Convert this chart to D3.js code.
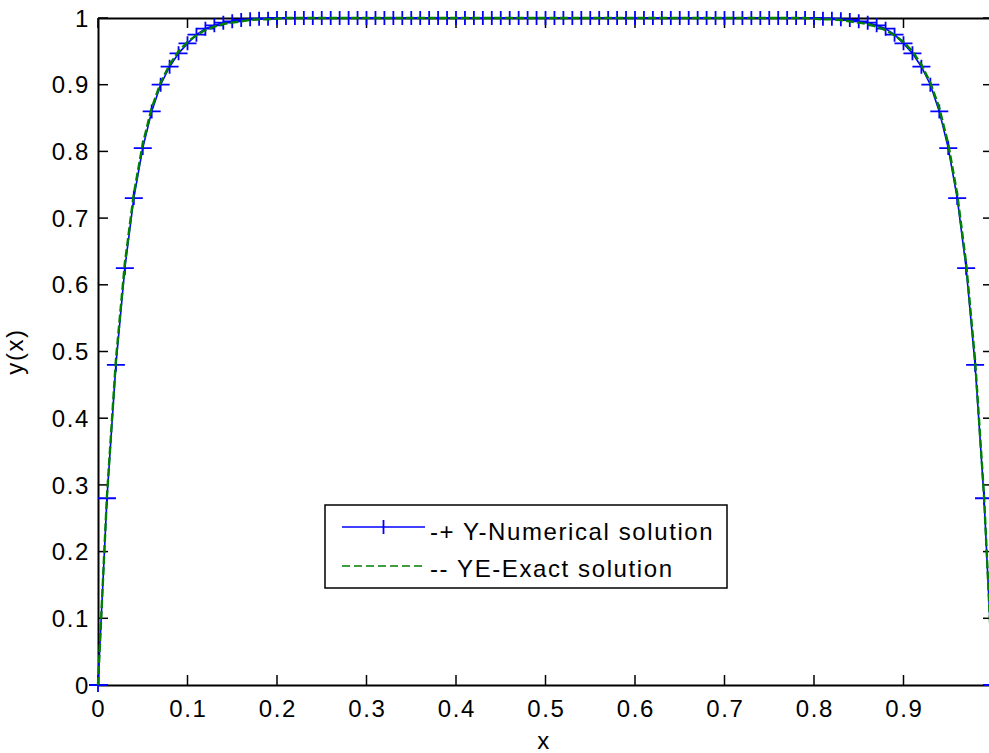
<!DOCTYPE html>
<html>
<head>
<meta charset="utf-8">
<script src="https://cdn.jsdelivr.net/npm/d3@7"></script>
<style>
  html, body { margin: 0; padding: 0; background: #fff; }
  svg { display: block; }
  text { font-family: "Liberation Sans", Arial, sans-serif; font-size: 24px; letter-spacing: 1.6px; fill: #000; }
</style>
</head>
<body>
<svg id="chart_svg"></svg>
<script>
// grid points
const xs = [
  0.00, 0.01, 0.02, 0.03, 0.04, 0.05, 0.06, 0.07, 0.08, 0.09,
  0.10, 0.11, 0.12, 0.13, 0.14, 0.15, 0.16, 0.17, 0.18, 0.19,
  0.20, 0.21, 0.22, 0.23, 0.24, 0.25, 0.26, 0.27, 0.28, 0.29,
  0.30, 0.31, 0.32, 0.33, 0.34, 0.35, 0.36, 0.37, 0.38, 0.39,
  0.40, 0.41, 0.42, 0.43, 0.44, 0.45, 0.46, 0.47, 0.48, 0.49,
  0.50, 0.51, 0.52, 0.53, 0.54, 0.55, 0.56, 0.57, 0.58, 0.59,
  0.60, 0.61, 0.62, 0.63, 0.64, 0.65, 0.66, 0.67, 0.68, 0.69,
  0.70, 0.71, 0.72, 0.73, 0.74, 0.75, 0.76, 0.77, 0.78, 0.79,
  0.80, 0.81, 0.82, 0.83, 0.84, 0.85, 0.86, 0.87, 0.88, 0.89,
  0.90, 0.91, 0.92, 0.93, 0.94, 0.95, 0.96, 0.97, 0.98, 0.99,
  1.00
];

// numerical solution
const yNumerical = [
  0, 0.28, 0.48, 0.625, 0.73, 0.805, 0.86, 0.9, 0.927, 0.947,
  0.962, 0.975, 0.984, 0.989, 0.993, 0.995, 0.997, 0.998, 0.999, 0.999,
  1, 1, 1, 1, 1, 1, 1, 1, 1, 1,
  1, 1, 1, 1, 1, 1, 1, 1, 1, 1,
  1, 1, 1, 1, 1, 1, 1, 1, 1, 1,
  1, 1, 1, 1, 1, 1, 1, 1, 1, 1,
  1, 1, 1, 1, 1, 1, 1, 1, 1, 1,
  1, 1, 1, 1, 1, 1, 1, 1, 1, 1,
  1, 0.999, 0.999, 0.998, 0.997, 0.995, 0.993, 0.989, 0.984, 0.975,
  0.962, 0.947, 0.927, 0.9, 0.86, 0.805, 0.73, 0.625, 0.48, 0.28,
  0
];

// exact solution
const yExact = [
  0, 0.283, 0.487, 0.632, 0.736, 0.811, 0.865, 0.903, 0.93, 0.95,
  0.964, 0.974, 0.982, 0.987, 0.991, 0.993, 0.995, 0.997, 0.998, 0.998,
  0.999, 1, 1, 1, 1, 1, 1, 1, 1, 1,
  1, 1, 1, 1, 1, 1, 1, 1, 1, 1,
  1, 1, 1, 1, 1, 1, 1, 1, 1, 1,
  1, 1, 1, 1, 1, 1, 1, 1, 1, 1,
  1, 1, 1, 1, 1, 1, 1, 1, 1, 1,
  1, 1, 1, 1, 1, 1, 1, 1, 1, 1,
  0.999, 0.998, 0.998, 0.997, 0.995, 0.993, 0.991, 0.987, 0.982, 0.974,
  0.964, 0.95, 0.93, 0.903, 0.865, 0.811, 0.736, 0.632, 0.487, 0.283,
  0
];

const xTicks = [0, 0.1, 0.2, 0.3, 0.4, 0.5, 0.6, 0.7, 0.8, 0.9];
const xTickLabels = ["0", "0.1", "0.2", "0.3", "0.4", "0.5", "0.6", "0.7", "0.8", "0.9"];
const yTicks = [0, 0.1, 0.2, 0.3, 0.4, 0.5, 0.6, 0.7, 0.8, 0.9, 1];
const yTickLabels = ["0", "0.1", "0.2", "0.3", "0.4", "0.5", "0.6", "0.7", "0.8", "0.9", "1"];
const seriesNames = ["-+ Y-Numerical solution", "-- YE-Exact solution"];

const width = 989, height = 753;
const plotLeft = 98, plotRight = 993, plotTop = 18, plotBottom = 685;
const tickLen = 10;

const svg = d3.select("#chart_svg")
  .attr("width", width)
  .attr("height", height);

const x = d3.scaleLinear().domain([0, 1]).range([plotLeft, plotRight]);
const y = d3.scaleLinear().domain([0, 1]).range([plotBottom, plotTop]);

// axes box (drawn first, data on top like MATLAB default)
const axesG = svg.append("g");

axesG.append("g")
  .attr("transform", `translate(0,${plotBottom})`)
  .call(d3.axisBottom(x).tickValues(xTicks).tickSize(0).tickFormat(""))
  .call(g => g.select(".domain").attr("stroke", "#000").attr("stroke-width", 2));
axesG.append("g")
  .attr("transform", `translate(0,${plotTop})`)
  .call(d3.axisTop(x).tickValues(xTicks).tickSize(0).tickFormat(""))
  .call(g => g.select(".domain").attr("stroke", "#000").attr("stroke-width", 2));
axesG.append("g")
  .attr("transform", `translate(${plotLeft},0)`)
  .call(d3.axisLeft(y).tickValues(yTicks).tickSize(0).tickFormat(""))
  .call(g => g.select(".domain").attr("stroke", "#000").attr("stroke-width", 2));
axesG.append("g")
  .attr("transform", `translate(${plotRight},0)`)
  .call(d3.axisRight(y).tickValues(yTicks).tickSize(0).tickFormat(""))
  .call(g => g.select(".domain").attr("stroke", "#000").attr("stroke-width", 2));

// inward ticks on all four sides
const tickG = axesG.append("g").attr("stroke", "#000").attr("stroke-width", 1.5);
xTicks.forEach(v => {
  tickG.append("line").attr("x1", x(v)).attr("x2", x(v)).attr("y1", plotBottom).attr("y2", plotBottom - tickLen);
  tickG.append("line").attr("x1", x(v)).attr("x2", x(v)).attr("y1", plotTop).attr("y2", plotTop + tickLen);
});
yTicks.forEach(v => {
  tickG.append("line").attr("x1", plotLeft).attr("x2", plotLeft + tickLen).attr("y1", y(v)).attr("y2", y(v));
  tickG.append("line").attr("x1", plotRight).attr("x2", plotRight - tickLen).attr("y1", y(v)).attr("y2", y(v));
});

// tick labels
axesG.append("g").selectAll("text")
  .data(xTicks)
  .enter().append("text")
  .attr("x", d => x(d) + 0.8)
  .attr("y", 717)
  .attr("text-anchor", "middle")
  .text((d, i) => xTickLabels[i]);

axesG.append("g").selectAll("text")
  .data(yTicks)
  .enter().append("text")
  .attr("x", 90)
  .attr("y", d => y(d))
  .attr("dy", "0.36em")
  .attr("text-anchor", "end")
  .text((d, i) => yTickLabels[i]);

// axis titles
svg.append("text")
  .attr("x", 544)
  .attr("y", 749)
  .attr("text-anchor", "middle")
  .text("x");

svg.append("text")
  .attr("transform", `translate(23,${(plotTop + plotBottom) / 2}) rotate(-90)`)
  .attr("text-anchor", "middle")
  .text("y(x)");

// data
const pts = xs.map((v, i) => ({ x: v, yn: yNumerical[i], ye: yExact[i] }));

const lineNum = d3.line().x(d => x(d.x)).y(d => y(d.yn));
const lineEx = d3.line().x(d => x(d.x)).y(d => y(d.ye));

svg.append("path")
  .datum(pts)
  .attr("fill", "none")
  .attr("stroke", "#0000ff")
  .attr("stroke-width", 1.6)
  .attr("d", lineNum);

const plusPath = (cx, cy) => `M${cx - 9},${cy}H${cx + 9}M${cx},${cy - 7}V${cy + 7}`;

svg.append("g")
  .selectAll("path")
  .data(pts)
  .enter().append("path")
  .attr("fill", "none")
  .attr("stroke", "#0000ff")
  .attr("stroke-width", 1.8)
  .attr("d", d => plusPath(x(d.x), y(d.yn)));

svg.append("path")
  .datum(pts)
  .attr("fill", "none")
  .attr("stroke", "#008000")
  .attr("stroke-width", 2.4)
  .attr("stroke-dasharray", "8,3")
  .attr("d", lineEx);

// legend
const legend = svg.append("g");
legend.append("rect")
  .attr("x", 325).attr("y", 505)
  .attr("width", 402).attr("height", 83)
  .attr("fill", "#fff")
  .attr("stroke", "#000")
  .attr("stroke-width", 1.5);

legend.append("line")
  .attr("x1", 342).attr("x2", 425).attr("y1", 527).attr("y2", 527)
  .attr("stroke", "#0000ff").attr("stroke-width", 1.5);
legend.append("path")
  .attr("d", `M383.5,520V534`)
  .attr("stroke", "#0000ff").attr("stroke-width", 1.8);
legend.append("line")
  .attr("x1", 342).attr("x2", 425).attr("y1", 566).attr("y2", 566)
  .attr("stroke", "#008000").attr("stroke-width", 1.5)
  .attr("stroke-dasharray", "8,4");

legend.append("text").attr("x", 430).attr("y", 540).text(seriesNames[0]);
legend.append("text").attr("x", 430).attr("y", 577).text(seriesNames[1]);
</script>
</body>
</html>
